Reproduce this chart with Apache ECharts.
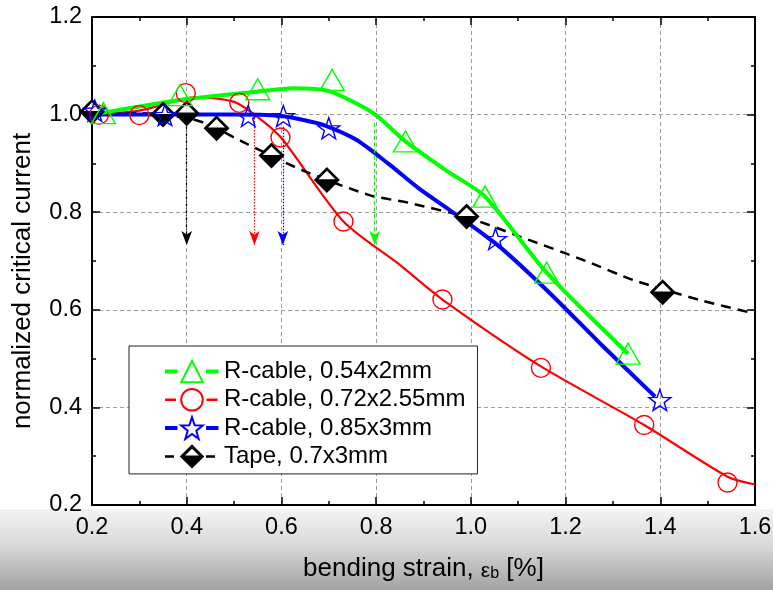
<!DOCTYPE html>
<html>
<head>
<meta charset="utf-8">
<script src="https://cdn.jsdelivr.net/npm/echarts@6/dist/echarts.min.js"></script>
<style>
  html, body { margin: 0; padding: 0; background: #fff; }
  #chart { width: 773px; height: 590px; }
</style>
</head>
<body>
<div id="chart"></div>
<script>
// ---- measured points: bending strain (%) vs normalized critical current ----
const cable054Strain = [0.224, 0.386, 0.55, 0.707, 0.862, 1.03, 1.16, 1.332];
const cable054Ic     = [1.003, 1.04, 1.052, 1.071, 0.945, 0.832, 0.676, 0.51];

const cable072Strain = [0.215, 0.30, 0.398, 0.511, 0.598, 0.731, 0.94, 1.148, 1.366, 1.542];
const cable072Ic     = [1.0, 0.999, 1.044, 1.024, 0.953, 0.781, 0.621, 0.481, 0.364, 0.246];

const cable085Strain = [0.206, 0.354, 0.53, 0.604, 0.70, 1.052, 1.399];
const cable085Ic     = [1.008, 0.999, 0.997, 0.997, 0.972, 0.745, 0.415];

const tapeStrain = [0.2, 0.35, 0.4, 0.463, 0.579, 0.696, 0.991, 1.405];
const tapeIc     = [1.006, 1.0, 1.003, 0.972, 0.916, 0.866, 0.791, 0.636];

// ---- guide curves through each data set ----
const cable054FitStrain = [0.2, 0.386, 0.547, 0.625, 0.7, 0.794, 0.862, 0.95, 1.03, 1.16, 1.332];
const cable054FitIc     = [1.0, 1.03, 1.047, 1.054, 1.048, 1.003, 0.945, 0.884, 0.832, 0.676, 0.51];

const cable072FitStrain = [0.2, 0.3, 0.42, 0.5, 0.55, 0.6, 0.731, 0.85, 0.94, 1.148, 1.366, 1.542, 1.6];
const cable072FitIc     = [1.0, 1.008, 1.036, 1.026, 0.995, 0.952, 0.781, 0.692, 0.621, 0.484, 0.364, 0.258, 0.242];

const cable085FitStrain = [0.2, 0.35, 0.5, 0.6, 0.646, 0.688, 0.759, 0.829, 0.89, 0.956, 1.061, 1.167, 1.273, 1.389];
const cable085FitIc     = [1.0, 1.0, 1.0, 0.997, 0.989, 0.979, 0.948, 0.897, 0.849, 0.804, 0.729, 0.634, 0.531, 0.422];

const tapeFitStrain = [0.2, 0.3, 0.4, 0.44, 0.525, 0.644, 0.786, 0.87, 0.99, 1.104, 1.245, 1.343, 1.484, 1.6];
const tapeFitIc     = [1.0, 1.003, 0.993, 0.982, 0.941, 0.886, 0.835, 0.819, 0.79, 0.75, 0.699, 0.661, 0.62, 0.592];

// ---- onset-of-degradation arrows (strain, start Ic, end Ic) ----
const arrowStrain = [0.4, 0.543, 0.603, 0.797];
const arrowFrom   = [0.976, 0.993, 0.975, 0.983];
const arrowTo     = [0.733, 0.733, 0.733, 0.733];

// ---- axis ticks ----
const strainTicks = [0.2, 0.4, 0.6, 0.8, 1.0, 1.2, 1.4, 1.6];
const icTicks     = [0.2, 0.4, 0.6, 0.8, 1.0, 1.2];

const names = [
  'R-cable, 0.54x2mm',
  'R-cable, 0.72x2.55mm',
  'R-cable, 0.85x3mm',
  'Tape, 0.7x3mm'
];

const FONT = "'Liberation Sans', Arial, Helvetica, sans-serif";
const GREEN = '#00ff00', RED = '#ff0000', BLUE = '#0000ff', BLACK = '#000000';

// five-pointed star and half-filled diamond (filled lower half, open upper half)
const STAR = 'path://M100,0 L123.51,67.64 L195.11,69.1 L138.04,112.36 L158.78,180.9 L100,140 L41.22,180.9 L61.96,112.36 L4.89,69.1 L76.49,67.64 Z';
const HALF_DIAMOND = 'path://M10,0 L20,10 L10,20 L0,10 Z M10,1.5 L1.5,10 L18.5,10 Z';

const zip = (xs, ys) => xs.map((x, i) => [x, ys[i]]);

function arrowLine(i, color, dash) {
  return [
    { coord: [arrowStrain[i], arrowFrom[i]], symbol: 'none',
      lineStyle: { color: color, width: 1.2, type: dash } },
    { coord: [arrowStrain[i], arrowTo[i]], symbol: 'arrow', symbolSize: [8, 14] }
  ];
}

function fitSeries(id, xs, ys, color, width, type, z, arrow) {
  return {
    id: id,
    type: 'line',
    data: zip(xs, ys),
    showSymbol: false,
    smooth: 0.25,
    z: z,
    silent: true,
    lineStyle: { color: color, width: width, type: type },
    markLine: {
      silent: true,
      animation: false,
      label: { show: false },
      symbol: ['none', 'arrow'],
      data: [arrow]
    }
  };
}

function markerSeries(name, xs, ys, symbol, size, color, fill, z) {
  return {
    name: name,
    type: 'line',
    data: zip(xs, ys),
    symbol: symbol,
    symbolSize: size,
    showSymbol: true,
    showAllSymbol: true,
    z: z,
    silent: true,
    lineStyle: { opacity: 0 },
    itemStyle: { color: fill, borderColor: color, borderWidth: 1.4 }
  };
}

const axisCommon = {
  type: 'value',
  axisLine: { show: true, onZero: false, lineStyle: { color: '#000', width: 2 } },
  axisTick: { show: true, inside: true, length: 8, lineStyle: { color: '#000', width: 1.5 } },
  minorTick: { show: true, splitNumber: 2, length: 4, lineStyle: { color: '#000', width: 1.5 } }
};

const chart = echarts.init(document.getElementById('chart'), null, { renderer: 'canvas' });

chart.setOption({
  animation: false,
  backgroundColor: '#fff',
  graphic: [{
    type: 'rect',
    z: -10,
    silent: true,
    shape: { x: 0, y: 509, width: 773, height: 81 },
    style: {
      fill: {
        type: 'linear', x: 0, y: 0, x2: 0, y2: 1,
        colorStops: [
          { offset: 0, color: '#f4f4f4' },
          { offset: 0.45, color: '#d8d8d8' },
          { offset: 1, color: '#a2a2a2' }
        ]
      }
    }
  }],
  grid: { left: 92, right: 18, top: 17, bottom: 85, containLabel: false, outerBoundsMode: 'none' },
  legend: {
    orient: 'vertical',
    left: 129,
    top: 346,
    itemWidth: 54,
    itemHeight: 27,
    itemGap: 1.3,
    padding: [12, 12, 4, 34],
    backgroundColor: '#fff',
    borderColor: '#222',
    borderWidth: 1,
    borderRadius: 0,
    selectedMode: false,
    textStyle: { fontFamily: FONT, fontSize: 24, color: '#000', lineHeight: 27 },
    data: [
      { name: names[0], lineStyle: { color: GREEN, width: 4, opacity: 1, type: [12.5, 28.5] } },
      { name: names[1], lineStyle: { color: RED, width: 2.5, opacity: 1, type: [11, 30.5] } },
      { name: names[2], lineStyle: { color: BLUE, width: 4, opacity: 1, type: [12.5, 28.5] } },
      { name: names[3], lineStyle: { color: BLACK, width: 2.5, opacity: 1, type: [9, 32] } }
    ]
  },
  xAxis: [
    Object.assign({}, axisCommon, {
      position: 'bottom',
      min: strainTicks[0],
      max: strainTicks[strainTicks.length - 1],
      interval: 0.2,
      splitLine: { show: true, lineStyle: { color: '#9c9c9c', width: 1, type: [4, 3] } },
      axisLabel: {
        margin: 11, fontFamily: FONT, fontSize: 23.5, color: '#000',
        formatter: v => v.toFixed(1)
      },
      name: '{t|bending strain, }{e|ε}{s|b}{t| [%]}',
      nameLocation: 'middle',
      nameGap: 47,
      nameTextStyle: {
        rich: {
          t: { fontFamily: FONT, fontSize: 26, color: '#000', lineHeight: 30, verticalAlign: 'bottom' },
          e: { fontFamily: FONT, fontSize: 21, color: '#000', lineHeight: 27, verticalAlign: 'bottom' },
          s: { fontFamily: FONT, fontSize: 16, color: '#000', lineHeight: 16, verticalAlign: 'bottom' }
        }
      }
    }),
    Object.assign({}, axisCommon, {
      position: 'top',
      min: strainTicks[0],
      max: strainTicks[strainTicks.length - 1],
      interval: 0.2,
      splitLine: { show: false },
      axisLabel: { show: false }
    })
  ],
  yAxis: [
    Object.assign({}, axisCommon, {
      position: 'left',
      min: icTicks[0],
      max: icTicks[icTicks.length - 1],
      interval: 0.2,
      splitLine: { show: true, lineStyle: { color: '#9c9c9c', width: 1, type: [4, 3] } },
      axisLabel: {
        margin: 10, fontFamily: FONT, fontSize: 23.5, color: '#000',
        formatter: v => v.toFixed(1)
      },
      name: 'normalized critical current',
      nameLocation: 'middle',
      nameGap: 56,
      nameRotate: 90,
      nameTextStyle: { fontFamily: FONT, fontSize: 26, color: '#000', padding: [0, 40, 0, 0] }
    }),
    Object.assign({}, axisCommon, {
      position: 'right',
      min: icTicks[0],
      max: icTicks[icTicks.length - 1],
      interval: 0.2,
      splitLine: { show: false },
      axisLabel: { show: false }
    })
  ],
  series: [
    fitSeries('fit072', cable072FitStrain, cable072FitIc, RED, 2.2, 'solid', 3, arrowLine(1, RED, [1.5, 1.5])),
    fitSeries('fitTape', tapeFitStrain, tapeFitIc, BLACK, 2.5, [10, 7], 3, arrowLine(0, BLACK, [3, 1.5, 1, 1.5])),
    fitSeries('fit085', cable085FitStrain, cable085FitIc, BLUE, 4, 'solid', 3, arrowLine(2, BLUE, [1.5, 1.5])),
    fitSeries('fit054', cable054FitStrain, cable054FitIc, GREEN, 4, 'solid', 3, arrowLine(3, GREEN, [4, 2.5])),
    // white backing under the half-filled tape diamonds
    {
      id: 'tapeBacking',
      type: 'scatter',
      data: zip(tapeStrain, tapeIc),
      symbol: 'diamond',
      symbolSize: 24,
      z: 4,
      silent: true,
      itemStyle: { color: '#fff', opacity: 1 }
    },
    markerSeries(names[3], tapeStrain, tapeIc, HALF_DIAMOND, 24, BLACK, BLACK, 5),
    markerSeries(names[1], cable072Strain, cable072Ic, 'circle', 19, RED, 'transparent', 6),
    markerSeries(names[2], cable085Strain, cable085Ic, STAR, [22, 21], BLUE, 'transparent', 7),
    markerSeries(names[0], cable054Strain, cable054Ic, 'triangle', [24, 21], GREEN, 'transparent', 8)
  ]
});
</script>
</body>
</html>
